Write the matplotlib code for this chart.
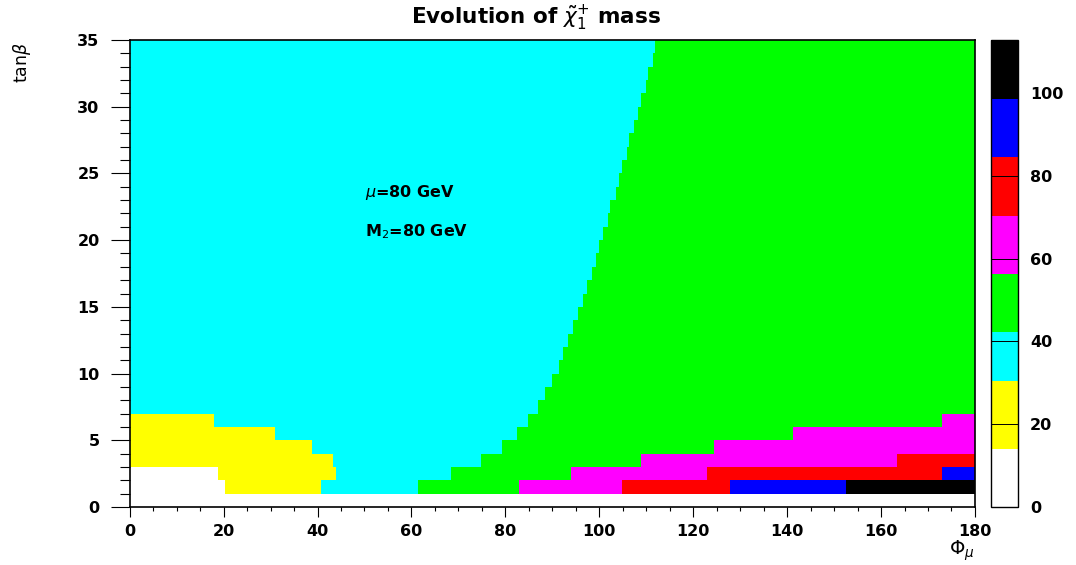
import numpy as np
import matplotlib
matplotlib.use("Agg")
import matplotlib.pyplot as plt
from matplotlib.colors import ListedColormap, BoundaryNorm

# contour levels of the chargino mass (GeV) and their fill colours
levels = [0, 14.0, 30.3, 42.3, 56.3, 70.4, 84.6, 98.7, 112.9]
colors = ['white', '#ffff00', '#00ffff', '#00ff00', '#ff00ff', '#ff0000', '#0000ff', 'black']

# tan(beta) rows are 1 unit wide, 0..35
tanb_edges = np.arange(0, 36)

# each row: (phi where a band starts, mass in that band)
row_0 = [(0, 0)]
row_1 = [(0, 7), (20.3, 22), (40.7, 36), (61.3, 49), (83.0, 63), (104.8, 77), (127.8, 92), (152.5, 106)]
row_2 = [(0, 7), (18.8, 22), (43.9, 36), (68.4, 49), (94.0, 63), (123.0, 77), (173.0, 92)]
row_3 = [(0, 22), (43.2, 36), (74.8, 49), (108.9, 63), (163.5, 77)]
row_4 = [(0, 22), (38.8, 36), (79.2, 49), (124.4, 63)]
row_5 = [(0, 22), (30.9, 36), (82.4, 49), (141.2, 63)]
row_6 = [(0, 22), (17.9, 36), (84.8, 49), (173.0, 63)]

# rows 7..34: phi where the 36 -> 49 GeV transition happens
upper_edge = [86.9, 88.4, 89.9, 91.4, 92.3, 93.3, 94.4, 95.5, 96.5, 97.4,
              98.5, 99.3, 100.0, 100.9, 101.8, 102.3, 103.5, 104.3, 104.8, 105.9,
              106.3, 107.3, 108.2, 108.9, 109.9, 110.4, 111.4, 111.9]

rows = [row_0, row_1, row_2, row_3, row_4, row_5, row_6]
rows += [[(0, 36), (e, 49)] for e in upper_edge]

phi_edges = np.arange(0, 180.05, 0.1)
phi_mid = 0.5 * (phi_edges[:-1] + phi_edges[1:])
mass = np.zeros((len(rows), len(phi_mid)))
for i, segs in enumerate(rows):
    for start, m in segs:
        mass[i, phi_mid >= start] = m

fig = plt.figure(figsize=(10.76, 5.65), dpi=100)
ax = fig.add_axes([0.1205, 0.1027, 0.7856, 0.8265])
cax = fig.add_axes([0.921, 0.1032, 0.0248, 0.826])

cmap = ListedColormap(colors)
norm = BoundaryNorm(levels, cmap.N)
mesh = ax.pcolormesh(phi_edges, tanb_edges, mass, cmap=cmap, norm=norm, shading='flat')

ax.set_xlim(0, 180)
ax.set_ylim(0, 35)
ax.set_xticks(np.arange(0, 181, 20))
ax.set_xticks(np.arange(0, 181, 5), minor=True)
ax.set_yticks(np.arange(0, 36, 5))
ax.set_yticks(np.arange(0, 36, 1), minor=True)
ax.tick_params(axis='x', which='major', direction='out', length=7.2, width=0.8, pad=5)
ax.tick_params(axis='x', which='minor', direction='out', length=3.2, width=0.8)
ax.tick_params(axis='y', which='major', direction='out', length=13.7, width=0.8, pad=8)
ax.tick_params(axis='y', which='minor', direction='out', length=7.2, width=0.8)
for lab in ax.get_xticklabels() + ax.get_yticklabels():
    lab.set_fontweight('bold')
    lab.set_fontsize(11.5)
for sp in ax.spines.values():
    sp.set_linewidth(1.2)

ax.text(50.1, 23.2, r'$\mu$=80 GeV', fontsize=11.5, fontweight='bold', ha='left', va='baseline')
ax.text(50.1, 20.3, r'M$_2$=80 GeV', fontsize=11.5, fontweight='bold', ha='left', va='baseline')

cb = fig.colorbar(mesh, cax=cax, spacing='proportional', ticks=[0, 20, 40, 60, 80, 100])
cb.minorticks_off()
cb.outline.set_linewidth(1.0)
cb.outline.set_edgecolor('black')
cax.tick_params(direction='in', length=19.2, width=0.7, pad=9, colors='black')
for lab in cax.get_yticklabels():
    lab.set_fontweight('bold')
    lab.set_fontsize(11.5)

fig.text(0.498, 0.969, r'Evolution of $\tilde{\chi}_1^{+}$ mass', fontsize=15.5,
         fontweight='bold', ha='center', va='center')
fig.text(0.0205, 0.926, r'tan$\beta$', rotation=90, fontsize=12.5, ha='center', va='top')
fig.text(0.906, 0.026, r'$\Phi_{\mu}$', fontsize=14, ha='right', va='center')

plt.savefig('out.png', dpi=100)
